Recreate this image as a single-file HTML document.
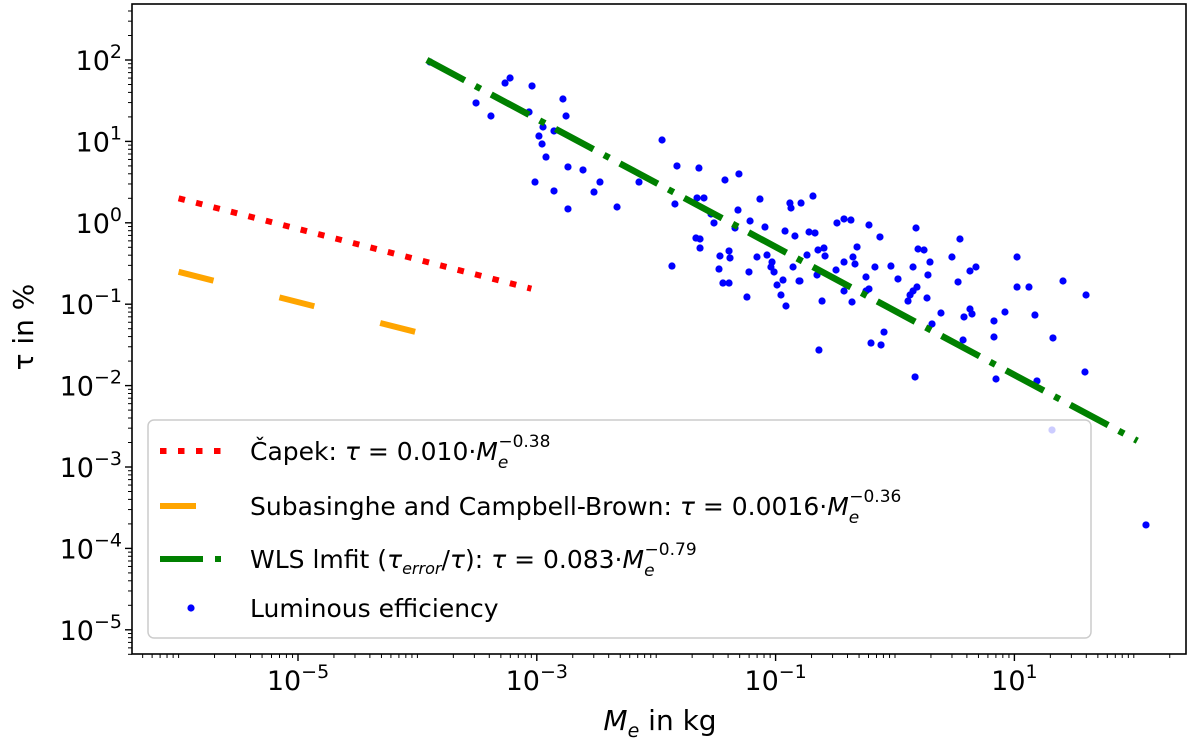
<!DOCTYPE html>
<html><head><meta charset="utf-8"><style>
html,body{margin:0;padding:0;background:#fff;}
svg{display:block;font-family:"DejaVu Sans","Liberation Sans",sans-serif;}
</style></head><body>
<svg id="chart" width="1200" height="749" viewBox="0 0 1200 749" xmlns="http://www.w3.org/2000/svg">
<rect x="0" y="0" width="1200" height="749" fill="#fff"/>
<g id="plot"></g>
<g id="axes"></g>
<g id="legend"></g>
</svg>
<script>
// ---- data ----
const xTickExps = [-5, -3, -1, 1];
const yTickExps = [2, 1, 0, -1, -2, -3, -4, -5];
const capekX = [1e-6, 9e-4];
const capekY = [2.0, 0.155];
const subaX = [1e-6, 1e-4];
const subaY = [0.25, 0.045];
const wlsX = [1.2e-4, 107];
const wlsY = [100, 0.0021];
// log10 of mass (kg)
const scatterLogMass = [
-3.894,-3.224,-3.266,-3.040,-3.509,-2.781,-3.384,-3.065,-2.755,-2.948,-2.856,-2.982,-2.956,-2.923,-1.951,
-2.739,-2.613,-3.015,-2.856,-2.471,-2.521,-2.739,-2.328,-2.144,-1.826,-1.642,-1.424,-1.307,-1.843,-1.658,
-1.600,-1.541,-1.516,-1.315,-1.214,-1.131,-1.340,-1.089,-0.880,-0.787,-0.871,-0.687,-1.667,-1.633,-1.633,
-1.868,-1.466,-1.390,-1.382,-1.474,-1.441,-1.390,-1.240,-1.156,-1.072,-1.030,-1.039,-1.013,-1.223,-0.988,
-0.938,-0.955,-0.913,-0.854,-0.804,-0.921,-0.838,-0.720,-0.670,-0.737,-0.645,-0.653,-0.637,
-0.486,-0.427,-0.369,-0.218,-0.126,0.176,0.544,-0.595,-0.586,-0.318,-0.352,-0.427,-0.335,-0.494,-0.796,
-0.168,-0.034,0.151,0.193,0.243,0.293,0.276,0.025,-0.243,-0.218,-0.243,-0.427,-0.611,-0.360,0.184,0.151,
0.126,0.109,0.268,0.477,0.628,0.678,0.528,1.022,1.022,1.122,1.407,1.600,0.385,0.628,0.645,0.578,0.829,
0.921,1.172,0.310,-0.092,-0.201,-0.117,0.570,0.829,1.323,0.168,0.846,1.189,1.591,1.315,2.102];
// log10 of tau (%)
const scatterLogTau = [
1.975,1.779,1.717,1.681,1.472,1.521,1.312,1.361,1.312,1.177,1.128,1.066,0.968,0.808,1.017,
0.686,0.649,0.501,0.391,0.501,0.378,0.170,0.194,0.501,0.698,0.673,0.526,0.600,0.231,0.305,
0.305,0.108,-0.002,0.157,0.022,0.292,-0.064,-0.052,0.243,0.243,0.182,0.329,-0.187,-0.199,-0.310,
-0.531,-0.408,-0.346,-0.432,-0.568,-0.740,-0.740,-0.912,-0.420,-0.396,-0.482,-0.543,-0.604,-0.604,-0.764,
-0.703,-0.887,-1.022,-0.543,-0.715,-0.101,-0.162,-0.113,-0.125,-0.396,-0.334,-0.641,-1.563,
-0.002,0.047,0.034,-0.027,-0.174,-0.064,-0.199,-0.310,-0.408,-0.297,-0.420,-0.482,-0.506,-0.580,-0.715,
-0.543,-0.531,-0.543,-0.322,-0.334,-0.482,-0.641,-0.690,-0.666,-0.813,-0.838,-0.838,-0.961,-0.973,-0.789,-0.838,
-0.887,-0.961,-0.924,-0.420,-0.592,-0.543,-0.727,-0.420,-0.789,-0.789,-0.715,-0.887,-1.108,-1.059,-1.120,-1.157,-1.206,
-1.096,-1.133,-1.243,-1.342,-1.477,-1.501,-1.440,-1.403,-1.415,-1.894,-1.919,-1.943,-1.833,-2.545,-3.712];
// ---- scales ----
const X0 = 298, XD = 119.4, Y0 = 60, YD = 81.4;
const L = 132, R = 1186, T = 4, B = 654;
function sx(v){ return X0 + (Math.log10(v) + 5) * XD; }
function sy(v){ return Y0 + (2 - Math.log10(v)) * YD; }
function lx(l){ return X0 + (l + 5) * XD; }
function ly(l){ return Y0 + (2 - l) * YD; }
const NS = "http://www.w3.org/2000/svg";
function mk(tag, attrs, parent){ const e = document.createElementNS(NS, tag); for (const k in attrs) e.setAttribute(k, attrs[k]); parent.appendChild(e); return e; }
const plot = document.getElementById('plot');
const axes = document.getElementById('axes');
const legend = document.getElementById('legend');

const defs = mk('defs', {}, plot);
const cp = mk('clipPath', {id:'clip'}, defs);
mk('rect', {x:L, y:T, width:R-L, height:B-T}, cp);
const g = mk('g', {'clip-path':'url(#clip)'}, plot);

const capek = mk('line', {x1:sx(capekX[0]), y1:sy(capekY[0]), x2:sx(capekX[1]), y2:sy(capekY[1]), stroke:'#ff0000', 'stroke-width':6, 'stroke-dasharray':'6.5 11.5'}, g);


const suba = mk('line', {x1:sx(subaX[0]), y1:sy(subaY[0]), x2:sx(subaX[1]), y2:sy(subaY[1]), stroke:'#ffa500', 'stroke-width':6, 'stroke-dasharray':'36 68'}, g);



for (let i = 0; i < scatterLogMass.length; i++) {
  const c = mk('circle', {cx:lx(scatterLogMass[i]), cy:ly(scatterLogTau[i]), r:3.6, fill:'#0000ff'}, g);
  
  
}
const wls = mk('line', {x1:sx(wlsX[0]), y1:sy(wlsY[0]), x2:sx(wlsX[1]), y2:sy(wlsY[1]), stroke:'#008000', 'stroke-width':6.5, 'stroke-dasharray':'43 12 6 12'}, g);



const frame = mk('rect', {x:L, y:T, width:R-L, height:B-T, fill:'none', stroke:'#000', 'stroke-width':1.6}, axes);



for (let e = -7; e <= 3; e++) {
  for (let m = 1; m <= 9; m++) {
    const v = m * Math.pow(10, e); const px = sx(v);
    if (px < L - 0.5 || px > R + 0.5) continue;
    const major = (m === 1 && e % 2 !== 0);
    mk('line', {x1:px, y1:B, x2:px, y2:B + (major ? 7 : 4), stroke:'#000', 'stroke-width':major ? 1.4 : 1}, axes);
  }
}
xTickExps.forEach(function(e){
  const t = mk('text', {x:sx(Math.pow(10, e)), y:690, 'text-anchor':'middle', 'font-size':27, fill:'#000'}, axes);
  
  
  t.innerHTML = '10<tspan dy="-12" font-size="19">' + (e < 0 ? '\u2212' + (-e) : e) + '</tspan>';
});
for (let e = -6; e <= 2; e++) {
  for (let m = 1; m <= 9; m++) {
    const v = m * Math.pow(10, e); const py = sy(v);
    if (py < T - 0.5 || py > B + 0.5) continue;
    const major = (m === 1);
    mk('line', {x1:L, y1:py, x2:L - (major ? 7 : 4), y2:py, stroke:'#000', 'stroke-width':major ? 1.4 : 1}, axes);
  }
}
yTickExps.forEach(function(e){
  const t = mk('text', {x:122, y:sy(Math.pow(10, e)) + 10, 'text-anchor':'end', 'font-size':27, fill:'#000'}, axes);
  
  
  t.innerHTML = '10<tspan dy="-12" font-size="19">' + (e < 0 ? '\u2212' + (-e) : e) + '</tspan>';
});
const xt = mk('text', {x:660, y:730, 'text-anchor':'middle', 'font-size':28, fill:'#000'}, axes);


xt.innerHTML = '<tspan font-style="italic">M</tspan><tspan dy="7" font-size="19" font-style="italic">e</tspan><tspan dy="-7"> in kg</tspan>';
const yt = mk('text', {x:0, y:0, 'text-anchor':'middle', 'font-size':28, fill:'#000', transform:'translate(33,327) rotate(-90)'}, axes);


yt.textContent = '\u03c4 in %';

const box = mk('rect', {x:148, y:420, width:943, height:218, rx:6, fill:'#fff', 'fill-opacity':0.8, stroke:'#cccccc', 'stroke-width':1.5}, legend);


function me(sup){ return '<tspan font-style="italic">M</tspan><tspan dy="8" font-size="17" font-style="italic">e</tspan><tspan dx="-10" dy="-21" font-size="17">\u2212' + sup + '</tspan>'; }
const rows = [
 {y:451, name:'legend-entry-capek', color:'#ff0000', dash:'6.5 11.5', txt:'\u010capek: <tspan font-style="italic">\u03c4</tspan> = 0.010\u00b7' + me('0.38')},
 {y:506, name:'legend-entry-subasinghe', color:'#ffa500', dash:'36 68', txt:'Subasinghe and Campbell-Brown: <tspan font-style="italic">\u03c4</tspan> = 0.0016\u00b7' + me('0.36')},
 {y:559, name:'legend-entry-wls', color:'#008000', dash:'43 12 6 12', txt:'WLS lmfit (<tspan font-style="italic">\u03c4</tspan><tspan dy="6" font-size="16" font-style="italic">error</tspan><tspan dy="-6">/</tspan><tspan font-style="italic">\u03c4</tspan>): <tspan font-style="italic">\u03c4</tspan> = 0.083\u00b7' + me('0.79')}
];
rows.forEach(function(r){
  const ln = mk('line', {x1:160, y1:r.y, x2:228, y2:r.y, stroke:r.color, 'stroke-width':6, 'stroke-dasharray':r.dash}, legend);
  
  
  const t = mk('text', {x:250, y:r.y + 9, 'font-size':25, fill:'#000'}, legend);
  
  
  t.innerHTML = r.txt;
});
const ld = mk('circle', {cx:191, cy:608, r:3.6, fill:'#0000ff'}, legend);


const lt = mk('text', {x:250, y:617, 'font-size':25, fill:'#000'}, legend);


lt.textContent = 'Luminous efficiency';
</script>
</body></html>
